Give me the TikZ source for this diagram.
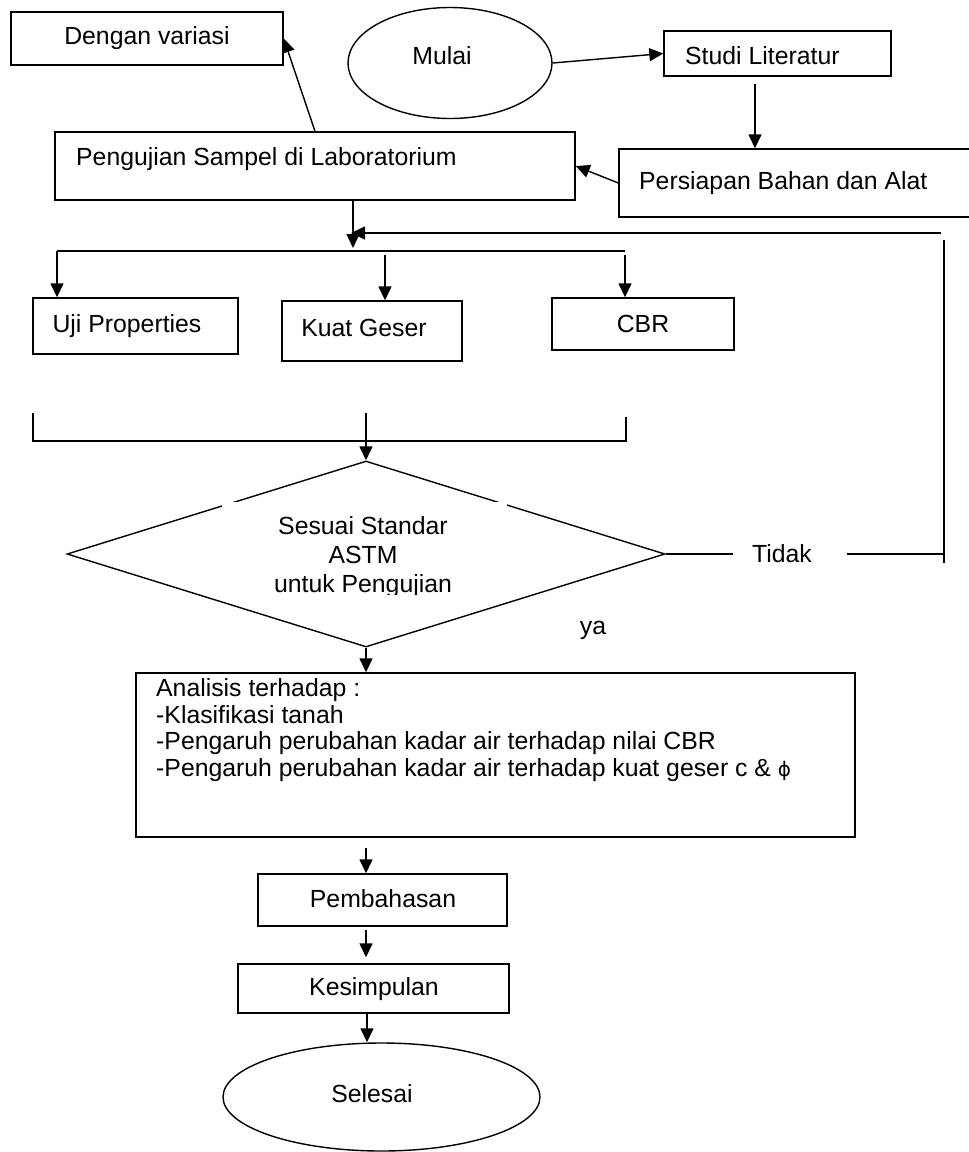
\documentclass[tikz,border=0pt]{standalone}
\usepackage{fontspec}
\setmainfont{Liberation Sans}
\newfontfamily\dvs{DejaVu Sans}
\usetikzlibrary{arrows.meta,shapes.geometric}
\begin{document}
\begin{tikzpicture}[x=1pt,y=-1pt,
  every node/.style={font=\fontsize{24.8}{26.5}\selectfont, inner sep=0pt},
  box/.style={draw, rectangle, line width=1.4pt},
  oval/.style={draw, ellipse, line width=1.4pt},
  ln/.style={line width=1.4pt},
  arr/.style={line width=1.4pt, -{Triangle[length=14pt,width=13pt]}}]
\useasboundingbox (0,0) rectangle (969,1152);
\clip (0,0) rectangle (969,1152);

% shapes
\node[box, minimum width=272pt, minimum height=53pt] (dengan) at (147,38.5) {};
\node[oval, minimum width=204pt, minimum height=111pt] (mulai) at (450,63) {};
\node[box, minimum width=227pt, minimum height=45pt] (studi) at (777.5,53.5) {};
\node[box, minimum width=520pt, minimum height=68pt] (peng) at (315,166) {};
\node[box, minimum width=381pt, minimum height=68pt] (pers) at (809.5,183) {};
\node[box, minimum width=205pt, minimum height=56pt] (uji) at (135.5,326) {};
\node[box, minimum width=180pt, minimum height=60pt] (kuat) at (372,331) {};
\node[box, minimum width=182pt, minimum height=52pt] (cbr) at (643,324) {};
\node[draw, diamond, line width=1.4pt, minimum width=598pt, minimum height=186pt] (dia) at (366,554) {};
\node[box, minimum width=719pt, minimum height=164pt] (anal) at (495.5,755) {};
\node[box, minimum width=249pt, minimum height=52pt] (pemb) at (382.5,900) {};
\node[box, minimum width=271pt, minimum height=49pt] (kesi) at (373.5,988.5) {};
\node[oval, minimum width=317pt, minimum height=108pt] (selesai) at (381.5,1097) {};

% texts
\node (tdengan) at (147,38) {Dengan variasi};
\node (tmulai) at (442,56) {Mulai};
\node[anchor=west] (tstudi) at (685,56) {Studi Literatur};
\node[anchor=west] (tpeng) at (76,159) {Pengujian Sampel di Laboratorium};
\node[anchor=west] (tpers) at (639,183) {Persiapan Bahan dan Alat};
\node (tuji) at (127,326) {Uji Properties};
\node (tkuat) at (364,328) {Kuat Geser};
\node (tcbr) at (643,324) {CBR};
\fill[white] (222,502) rectangle (507,595);
\begin{scope}
  \clip (222,502) rectangle (507,594);
  \node[align=center, font=\fontsize{24.8}{29}\selectfont] (tdia) at (363,557) {Sesuai Standar\\ASTM\\untuk Pengujian};
\end{scope}
\node (tya) at (593,630) {ya};
\node[align=left, anchor=west] (tanal) at (156,730) {Analisis terhadap :\\-Klasifikasi tanah\\-Pengaruh perubahan kadar air terhadap nilai CBR\\-Pengaruh perubahan kadar air terhadap kuat geser c \& {\dvs\fontsize{20}{20}\selectfont ϕ}};
\node (tpemb) at (383,899) {Pembahasan};
\node (tkesi) at (374,989) {Kesimpulan};
\node (tsel) at (372,1094) {Selesai};

% connectors
\draw[arr] (mulai.east) -- (studi.west);
\coordinate (s1) at (755,84);
\draw[arr] (s1) -- (s1 |- pers.north);
\draw[arr] (pers.west) -- (peng.east);
\draw[arr] (peng.north) -- (dengan.east);

\coordinate (p1) at (353,200);
\coordinate (j) at (353,248);
\draw[arr] (p1) -- (j);
\coordinate (fb1) at (941,233);
\coordinate (fb2) at (351,233);
\draw[arr] (fb1) -- (fb2);
\coordinate (fv1) at (944,240);
\coordinate (fv2) at (944,563);
\draw[ln] (fv1) -- (fv2);

\coordinate (bl) at (57,251);
\coordinate (br) at (625,251);
\draw[ln] (bl) -- (br);
\draw[arr] (bl) -- (bl |- uji.north);
\coordinate (b2) at (385,255);
\draw[arr] (b2) -- (b2 |- kuat.north);
\coordinate (b3) at (625,255);
\draw[arr] (b3) -- (b3 |- cbr.north);

\coordinate (lb1) at (33,413);
\coordinate (lb2) at (33,441);
\coordinate (lb3) at (626,441);
\coordinate (lb4) at (626,417);
\draw[ln] (lb1) -- (lb2) -- (lb3) -- (lb4);
\coordinate (m1) at (366,413);
\draw[arr] (m1) -- (dia.north);

\node (ttidak) at (782,554) {Tidak};
\coordinate (t1) at (733,554);
\coordinate (t2) at (847,554);
\draw[ln] (dia.east) -- (t1);
\draw[ln] (t2) -- (fv2 |- t2);

\draw[arr] (dia.south) -- (dia.south |- anal.north);
\coordinate (a1) at (366,848);
\draw[arr] (a1) -- (a1 |- pemb.north);
\coordinate (a2) at (366,930);
\draw[arr, shorten >=6pt] (a2) -- (a2 |- kesi.north);
\coordinate (a3) at (367,1013);
\draw[arr] (a3) -- (a3 |- selesai.north);
\end{tikzpicture}
\end{document}
